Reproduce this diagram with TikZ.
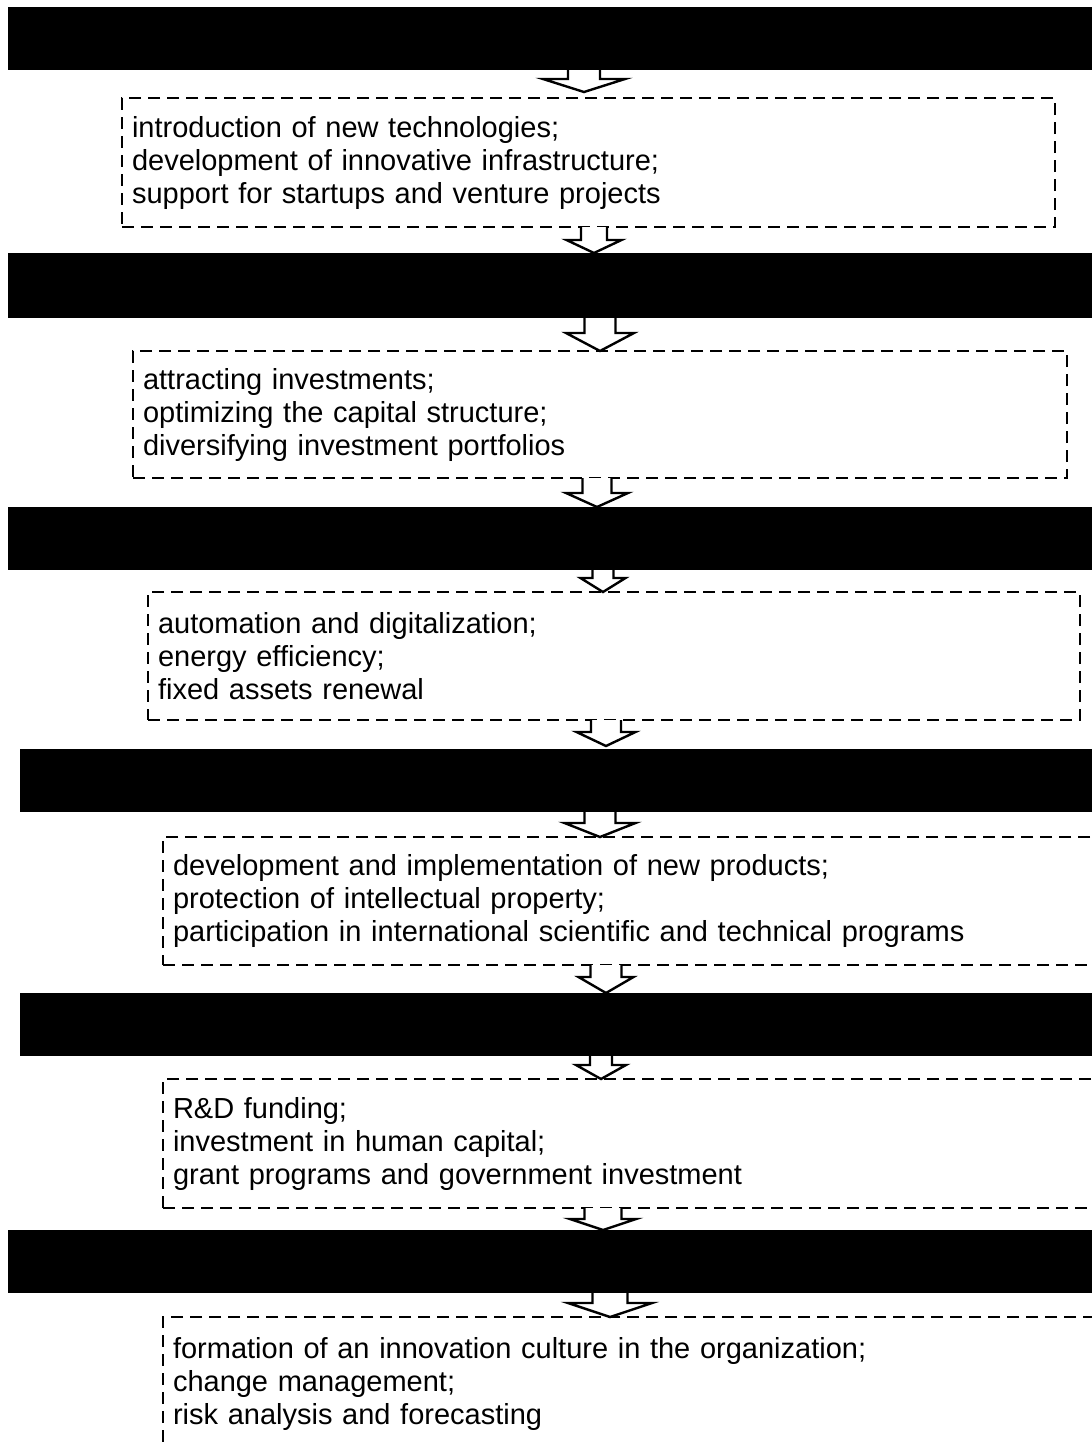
\documentclass[tikz,border=0pt]{standalone}
\usepackage{fontspec}
\setmainfont{Liberation Sans}
\usetikzlibrary{calc}
\tikzset{
  barbox/.style={fill=black, draw=none, inner sep=0pt, outer sep=0pt, anchor=north west},
  dbox/.style={draw=black, line width=2.4pt, dash pattern=on 12pt off 7pt, anchor=north west,
    align=left, inner xsep=10pt, inner ysep=0pt, outer sep=0pt,
    font=\fontsize{29pt}{33pt}\selectfont},
  arrowbody/.style={fill=white, draw=black, line width=2.4pt, line join=miter}
}
\newcommand\flowarrow[7]{%
  \path[arrowbody] let \p1=(#1.south), \p2=(#2.north) in
    (#3pt-#4pt,\y1) -- (#3pt-#4pt,\y2+#7pt+#6pt) -- (#3pt-#5pt,\y2+#7pt+#6pt)
    -- (#3pt,\y2+#7pt) -- (#3pt+#5pt,\y2+#7pt+#6pt) -- (#3pt+#4pt,\y2+#7pt+#6pt)
    -- (#3pt+#4pt,\y1);}
\begin{document}
\begin{tikzpicture}
\useasboundingbox (0pt,0pt) rectangle (1092pt,-1443pt);
\clip (0pt,0pt) rectangle (1092pt,-1443pt);

\node[barbox, minimum width=1084pt, minimum height=63pt] (bar1) at (8pt,-7pt) {};
\node[dbox, minimum width=933pt, minimum height=129pt, text width=913pt] (box1) at (122pt,-98pt)
  {introduction of new technologies;\\development of innovative infrastructure;\\support for startups and venture projects};

\node[barbox, minimum width=1084pt, minimum height=65pt] (bar2) at (8pt,-253pt) {};
\node[dbox, minimum width=934pt, minimum height=127pt, text width=914pt] (box2) at (133pt,-351pt)
  {attracting investments;\\optimizing the capital structure;\\diversifying investment portfolios};

\node[barbox, minimum width=1084pt, minimum height=63pt] (bar3) at (8pt,-507pt) {};
\node[dbox, minimum width=932pt, minimum height=128pt, text width=912pt] (box3) at (148pt,-592pt)
  {automation and digitalization;\\energy efficiency;\\fixed assets renewal};

\node[barbox, minimum width=1072pt, minimum height=63pt] (bar4) at (20pt,-749pt) {};
\node[dbox, minimum width=960pt, minimum height=128pt, text width=940pt] (box4) at (163pt,-837pt)
  {development and implementation of new products;\\protection of intellectual property;\\participation in international scientific and technical programs};

\node[barbox, minimum width=1072pt, minimum height=63pt] (bar5) at (20pt,-993pt) {};
\node[dbox, minimum width=960pt, minimum height=129pt, text width=940pt] (box5) at (163pt,-1079pt)
  {R\&D funding;\\investment in human capital;\\grant programs and government investment};

\node[barbox, minimum width=1084pt, minimum height=63pt] (bar6) at (8pt,-1230pt) {};
\node[dbox, minimum width=960pt, minimum height=133pt, text width=940pt] (box6) at (163pt,-1317pt)
  {formation of an innovation culture in the organization;\\change management;\\risk analysis and forecasting};

\flowarrow{bar1}{box1}{584}{16}{41}{13}{6}
\flowarrow{box1}{bar2}{594}{13}{27.5}{13}{0}
\flowarrow{bar2}{box2}{600}{15.5}{34}{18}{0}
\flowarrow{box2}{bar3}{597}{14.5}{31}{14}{0}
\flowarrow{bar3}{box3}{603}{10.5}{22.5}{14}{0}
\flowarrow{box3}{bar4}{606}{15}{29.5}{14}{3}
\flowarrow{bar4}{box4}{600}{15.5}{35.5}{14}{0}
\flowarrow{box4}{bar5}{606}{15.5}{27.5}{16}{0}
\flowarrow{bar5}{box5}{601}{11}{25}{14}{0}
\flowarrow{box5}{bar6}{603}{18.5}{33}{11}{0}
\flowarrow{bar6}{box6}{610}{17.5}{42}{14}{0}
\end{tikzpicture}
\end{document}
